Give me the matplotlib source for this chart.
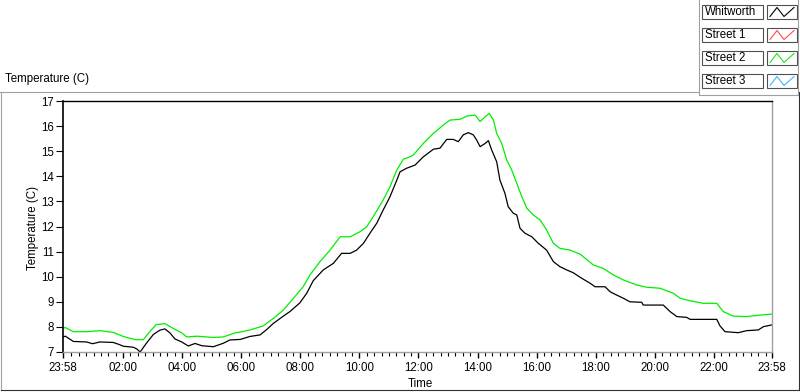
"""LabVIEW-style temperature chart: Whitworth vs street sensors over one day."""

import matplotlib
matplotlib.use("Agg")
import matplotlib.pyplot as plt
from matplotlib.patches import Rectangle

plt.rcParams["font.family"] = ["Liberation Sans", "DejaVu Sans"]

# hours since 23:58 of the previous day
whit_hours = [0.00, 0.08, 0.35, 0.80, 1.00, 1.25, 1.70, 1.90, 2.04, 2.38, 2.50, 2.61,
              2.83, 3.06, 3.28, 3.45, 3.62, 3.79, 4.02, 4.24, 4.47, 4.70, 5.09, 5.43,
              5.65, 6.00, 6.33, 6.67, 6.90, 7.12, 7.46, 7.68, 8.02, 8.25, 8.47, 8.81,
              9.15, 9.43, 9.72, 9.94, 10.17, 10.39, 10.62, 10.84, 11.07, 11.30, 11.41,
              11.63, 11.92, 12.20, 12.54, 12.76, 12.99, 13.21, 13.38, 13.55, 13.72,
              13.89, 14.00, 14.12, 14.29, 14.40, 14.51, 14.68, 14.79, 14.96, 15.07,
              15.24, 15.36, 15.47, 15.64, 15.87, 16.09, 16.37, 16.60, 16.82, 17.05,
              17.27, 17.50, 17.84, 18.01, 18.35, 18.52, 18.74, 18.97, 19.19, 19.59,
              19.64, 20.32, 20.55, 20.78, 21.11, 21.23, 22.13, 22.24, 22.41, 22.86,
              23.14, 23.54, 23.71, 24.00]
whit_temp = [7.60, 7.63, 7.42, 7.40, 7.33, 7.40, 7.38, 7.30, 7.23, 7.19, 7.12, 7.00,
             7.36, 7.70, 7.87, 7.92, 7.76, 7.52, 7.40, 7.24, 7.34, 7.25, 7.21, 7.35,
             7.48, 7.50, 7.62, 7.68, 7.90, 8.14, 8.43, 8.61, 8.96, 9.34, 9.84, 10.27,
             10.53, 10.93, 10.93, 11.06, 11.33, 11.73, 12.13, 12.66, 13.19, 13.85, 14.18,
             14.32, 14.45, 14.78, 15.08, 15.12, 15.47, 15.47, 15.38, 15.65, 15.74,
             15.65, 15.45, 15.18, 15.31, 15.42, 15.05, 14.58, 13.85, 13.32, 12.79,
             12.53, 12.46, 11.93, 11.73, 11.59, 11.33, 11.06, 10.60, 10.40, 10.27,
             10.16, 9.98, 9.74, 9.60, 9.60, 9.40, 9.27, 9.14, 9.00, 8.98,
             8.87, 8.87, 8.61, 8.41, 8.38, 8.30, 8.30, 8.04, 7.81, 7.77,
             7.85, 7.88, 8.01, 8.08]

st2_hours = [0.00, 0.07, 0.35, 0.80, 1.25, 1.70, 2.04, 2.45, 2.72, 2.90, 3.15, 3.45,
             3.70, 4.02, 4.19, 4.53, 5.09, 5.43, 5.65, 5.85, 5.99, 6.33, 6.78, 7.12,
             7.46, 7.80, 8.13, 8.36, 8.70, 9.04, 9.38, 9.72, 10.05, 10.28, 10.50, 10.84,
             11.07, 11.30, 11.52, 11.75, 11.86, 12.20, 12.54, 12.87, 13.10, 13.44, 13.67,
             13.95, 14.12, 14.29, 14.43, 14.57, 14.68, 14.85, 15.02, 15.19, 15.36, 15.53,
             15.70, 15.92, 16.15, 16.37, 16.60, 16.82, 17.16, 17.50, 17.61, 17.95, 18.29,
             18.63, 18.97, 19.42, 19.76, 20.21, 20.66, 20.89, 21.23, 21.68, 22.13, 22.35,
             22.69, 23.14, 23.59, 24.00]
st2_temp = [7.93, 7.98, 7.81, 7.81, 7.85, 7.78, 7.62, 7.49, 7.49, 7.76, 8.09, 8.13,
            7.96, 7.76, 7.60, 7.63, 7.58, 7.60, 7.69, 7.77, 7.79, 7.88, 8.04, 8.34,
            8.67, 9.14, 9.60, 10.07, 10.60, 11.06, 11.59, 11.59, 11.79, 11.99, 12.39, 13.06,
            13.59, 14.25, 14.68, 14.78, 14.85, 15.31, 15.71, 16.04, 16.24, 16.27, 16.40,
            16.44, 16.18, 16.37, 16.51, 16.24, 15.71, 15.31, 14.65, 14.25, 13.72, 13.19,
            12.73, 12.46, 12.26, 11.86, 11.33, 11.13, 11.06, 10.90, 10.80, 10.47, 10.33,
            10.07, 9.87, 9.67, 9.58, 9.54, 9.34, 9.14, 9.04, 8.94, 8.94, 8.61,
            8.43, 8.41, 8.47, 8.51]

x_tick_labels = ["23:58", "02:00", "04:00", "06:00", "08:00", "10:00", "12:00",
                 "14:00", "16:00", "18:00", "20:00", "22:00", "23:58"]
y_ticks = list(range(7, 18))
legend_names = ["Whitworth", "Street 1", "Street 2", "Street 3"]
legend_colors = ["black", "#ff4a4a", "#22e022", "#3cb4ff"]

W, H = 800, 392
fig = plt.figure(figsize=(W / 100, H / 100), dpi=100)

# frame/legend decorations, drawn in pixel coordinates
deco = fig.add_axes([0, 0, 1, 1], zorder=0)
deco.set_xlim(0, W)
deco.set_ylim(H, 0)
deco.axis("off")
deco.plot([0, 699], [92, 92], color="#a0a0a0", lw=0.8)
deco.plot([1, 1], [92, 390], color="#a0a0a0", lw=0.8)
deco.plot([1, 799], [390, 390], color="#303030", lw=0.8)
deco.plot([799, 799], [92, 390], color="#303030", lw=0.8)
deco.plot([699, 699, 798], [0, 94.5, 94.5], color="#a0a0a0", lw=0.8)
deco.plot([798, 798], [0, 94.5], color="#a0a0a0", lw=0.8)
deco.text(5, 82, "Temperature (C)", fontsize=8.3, va="baseline", ha="left")

for i, (name, color) in enumerate(zip(legend_names, legend_colors)):
    top = 4.5 + i * 23
    deco.add_patch(Rectangle((702, top), 61, 14.5, facecolor="white",
                             edgecolor="#505050", lw=0.8))
    deco.text(705, top + 7.5, name, fontsize=8.3, va="center", ha="left")
    deco.add_patch(Rectangle((767, top), 30, 14.5, facecolor="white",
                             edgecolor="#505050", lw=0.8))
    deco.plot([770, 777, 784, 794], [top + 12, top + 3, top + 12, top + 3],
              color=color, lw=0.8)

# main plot area
ax = fig.add_axes([63 / W, 1 - 352 / H, 709 / W, 251 / H], zorder=1)
ax.plot(whit_hours, whit_temp, color="black", lw=0.9)
ax.plot(st2_hours, st2_temp, color="#00ee00", lw=0.9)
ax.set_xlim(0, 24)
ax.set_ylim(7, 17)

major = [0.0] + [2 / 60 + 2 * k for k in range(1, 12)] + [24.0]
minor = [2 / 60 + 0.25 * k for k in range(1, 96) if k % 8 != 0]
ax.set_xticks(major)
ax.set_xticklabels(x_tick_labels)
ax.set_xticks(minor, minor=True)
ax.set_yticks(y_ticks)
ax.tick_params(axis="both", direction="out", labelsize=8.3, colors="black")
ax.tick_params(axis="x", length=4, width=1.0, pad=3)
ax.tick_params(axis="x", which="minor", length=3, width=0.8)
ax.tick_params(axis="y", length=5, width=0.8, pad=1.5)

ax.spines["left"].set_color("black")
ax.spines["left"].set_linewidth(1.2)
ax.spines["top"].set_color("black")
ax.spines["top"].set_linewidth(1.0)
ax.spines["right"].set_color("#a0a0a0")
ax.spines["bottom"].set_color("#a0a0a0")
ax.spines["right"].set_linewidth(1.0)
ax.spines["bottom"].set_linewidth(1.0)

fig.text(33 / W, 1 - 228 / H, "Temperature (C)", rotation=90, fontsize=8.3,
         ha="center", va="center")
fig.text(420 / W, 1 - 384 / H, "Time", fontsize=8.3, ha="center", va="center")

fig.savefig("out.png", dpi=100)
